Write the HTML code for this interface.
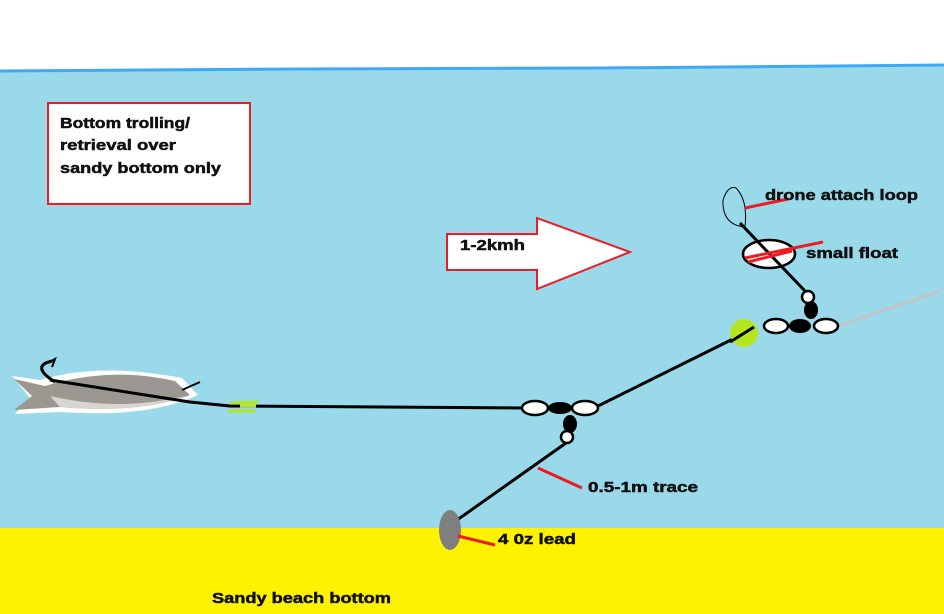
<!DOCTYPE html>
<html><head><style>body{margin:0}svg{display:block}text{font-family:"Liberation Sans",sans-serif;font-weight:bold;font-size:15px;fill:#111;stroke:#111;stroke-width:0.5}</style></head><body>
<svg width="944" height="614" xmlns="http://www.w3.org/2000/svg">
<rect width="944" height="614" fill="#fff"/>
<path d="M0 70 L300 68 L600 67 L944 64 L944 614 L0 614Z" fill="#99d9ea"/>
<path d="M0 71 L300 69 L600 68 L944 65" stroke="#3fa9f5" stroke-width="3" fill="none"/>
<rect x="0" y="528" width="944" height="86" fill="#fff200"/>
<rect x="48" y="103" width="202" height="101" fill="#fff" stroke="#ed1c24" stroke-width="2"/>
<text x="60" y="128" textLength="130" lengthAdjust="spacingAndGlyphs">Bottom trolling/</text><text x="60" y="150" textLength="116" lengthAdjust="spacingAndGlyphs">retrieval over</text><text x="60" y="173" textLength="161" lengthAdjust="spacingAndGlyphs">sandy bottom only</text>
<path d="M447 234 L537 234 L537 218 L630 252 L537 289 L537 270 L447 270Z" fill="#fff" stroke="#ed1c24" stroke-width="2"/>
<text x="460" y="250" textLength="65" lengthAdjust="spacingAndGlyphs">1-2kmh</text>
<!-- fish -->
<path d="M12 376 L40 380 Q100 362 182 378 L198 395 Q150 418 60 412 L15 414 L30 398Z" fill="#fff"/>
<path d="M14 379 L45 386 Q110 366 175 381 L190 395 Q140 414 60 407 L14 410 L32 396Z" fill="#9a9890"/>
<path d="M50 396 Q120 412 185 396 Q140 414 60 407Z" fill="#d8d6d0"/>
<path d="M55 382 Q30 366 52 361" stroke="#000" stroke-width="3" fill="none"/>
<path d="M48 363 L55 359 L52 367" stroke="#000" stroke-width="2" fill="none"/>
<path d="M182 390 L200 382" stroke="#000" stroke-width="2"/>
<path d="M50 380 L190 402 L230 406 L525 408" stroke="#000" stroke-width="3" fill="none"/>
<path d="M230 403 L258 402 M240 406 L256 406 M228 411 L255 411" stroke="#b5e61d" stroke-width="3"/>
<!-- lower swivel -->
<ellipse cx="535" cy="408" rx="13" ry="7" fill="#fff" stroke="#000" stroke-width="2.5"/>
<ellipse cx="560" cy="408" rx="12" ry="6" fill="#000"/>
<ellipse cx="585" cy="408" rx="13" ry="7" fill="#fff" stroke="#000" stroke-width="2.5"/>
<ellipse cx="570" cy="424" rx="7" ry="9" fill="#000"/>
<circle cx="567" cy="437" r="6" fill="#fff" stroke="#000" stroke-width="2.5"/>
<path d="M598 406 L745 333" stroke="#000" stroke-width="3"/>
<path d="M566 443 L450 525" stroke="#000" stroke-width="3"/>
<ellipse cx="450" cy="530" rx="11" ry="20" fill="#7f7f7f"/>
<path d="M538 468 L582 488 M458 536 L495 545" stroke="#ed1c24" stroke-width="3"/>
<text x="588" y="492" textLength="110" lengthAdjust="spacingAndGlyphs">0.5-1m trace</text>
<text x="498" y="544" textLength="78" lengthAdjust="spacingAndGlyphs">4 0z lead</text>
<text x="212" y="603" textLength="179" lengthAdjust="spacingAndGlyphs">Sandy beach bottom</text>
<!-- upper -->
<circle cx="744" cy="333" r="14" fill="#b5e61d"/>
<path d="M730 342 L754 327" stroke="#000" stroke-width="3"/>
<path d="M838 326 L940 291" stroke="#c3c3c3" stroke-width="3"/>
<ellipse cx="776" cy="326" rx="12" ry="7" fill="#fff" stroke="#000" stroke-width="2.5"/>
<ellipse cx="800" cy="326" rx="11" ry="7" fill="#000"/>
<ellipse cx="826" cy="326" rx="12" ry="7" fill="#fff" stroke="#000" stroke-width="2.5"/>
<ellipse cx="811" cy="310" rx="7" ry="9" fill="#000"/>
<circle cx="808" cy="297" r="6" fill="#fff" stroke="#000" stroke-width="2.5"/>
<ellipse cx="769" cy="254" rx="26" ry="14" fill="#fff" stroke="#000" stroke-width="2.5"/>
<path d="M805 291 L740 223" stroke="#000" stroke-width="3"/>
<path d="M745 227 Q722 225 723 200 Q728 185 736 188 Q748 200 745 227Z" stroke="#000" stroke-width="1" fill="none"/>
<path d="M745 208 L788 199 M745 258 L823 242 M748 262 L792 251" stroke="#ed1c24" stroke-width="3"/>
<text x="765" y="200" textLength="153" lengthAdjust="spacingAndGlyphs">drone attach loop</text>
<text x="806" y="258" textLength="92" lengthAdjust="spacingAndGlyphs">small float</text>
</svg></body></html>
